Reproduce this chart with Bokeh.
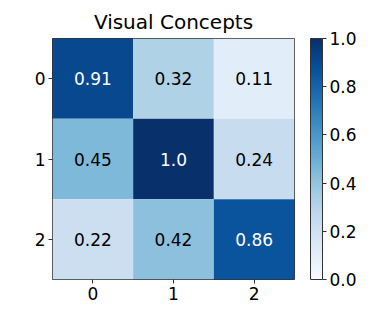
from bokeh.plotting import figure
from bokeh.models import ColumnDataSource, LinearColorMapper, ColorBar, FixedTicker, Range1d, PrintfTickFormatter
from bokeh.palettes import Blues256
from bokeh.embed import file_html
from bokeh.resources import INLINE

title = "Visual Concepts"
rows = [0, 0, 0, 1, 1, 1, 2, 2, 2]
cols = [0, 1, 2, 0, 1, 2, 0, 1, 2]
vals = [0.91, 0.32, 0.11, 0.45, 1.0, 0.24, 0.22, 0.42, 0.86]
ticks = [0, 1, 2]
cbar_ticks = [0.0, 0.2, 0.4, 0.6, 0.8, 1.0]

labels = [f"{v}" for v in vals]
tcolors = ["white" if v > 0.5 else "black" for v in vals]

mapper = LinearColorMapper(palette=list(Blues256[::-1]), low=0, high=1)
src = ColumnDataSource(dict(x=cols, y=rows, v=vals, lab=labels, tc=tcolors))

FONT = "DejaVu Sans"
p = figure(width=367, height=306, output_backend="svg", toolbar_location=None,
           x_range=Range1d(-0.5, 2.5), y_range=Range1d(2.5, -0.5),
           min_border_left=52, min_border_right=73, min_border_top=38, min_border_bottom=27,
           title=title)
p.title.text_font = FONT
p.title.text_font_size = "20px"
p.title.text_font_style = "normal"
p.title.align = "center"
p.title.text_color = "black"

p.rect(x="x", y="y", width=1, height=1, source=src,
       fill_color={"field": "v", "transform": mapper}, line_color=None)
p.text(x="x", y="y", text="lab", source=src, text_color="tc",
       text_align="center", text_baseline="middle", text_font_size="17px",
       text_font={"value": FONT})

p.grid.visible = False
p.outline_line_color = "#333333"
p.outline_line_width = 1
for ax in (p.xaxis, p.yaxis):
    ax.ticker = FixedTicker(ticks=ticks)
    ax.major_label_text_font = FONT
    ax.major_label_text_font_size = "17px"
    ax.major_label_text_color = "black"
    ax.axis_line_color = None
    ax.major_tick_out = 4
    ax.major_tick_in = 0
    ax.major_label_standoff = 3
    ax.minor_tick_line_color = None
    ax.major_tick_line_color = "#333333"
p.yaxis.major_label_orientation = 0

cb = ColorBar(color_mapper=mapper, width=12, height=241, padding=0, margin=0,
              ticker=FixedTicker(ticks=cbar_ticks),
              formatter=PrintfTickFormatter(format="%.1f"),
              major_label_text_font=FONT, major_label_text_font_size="17px",
              major_label_text_color="black",
              major_tick_out=4, major_tick_in=0, major_tick_line_color="#333333",
              minor_tick_line_color=None,
              bar_line_color="#333333", bar_line_width=1,
              border_line_color=None, background_fill_color=None,
              location=(16, 0), label_standoff=3)
p.add_layout(cb, "right")

open("out.html", "w").write(file_html(p, INLINE))
